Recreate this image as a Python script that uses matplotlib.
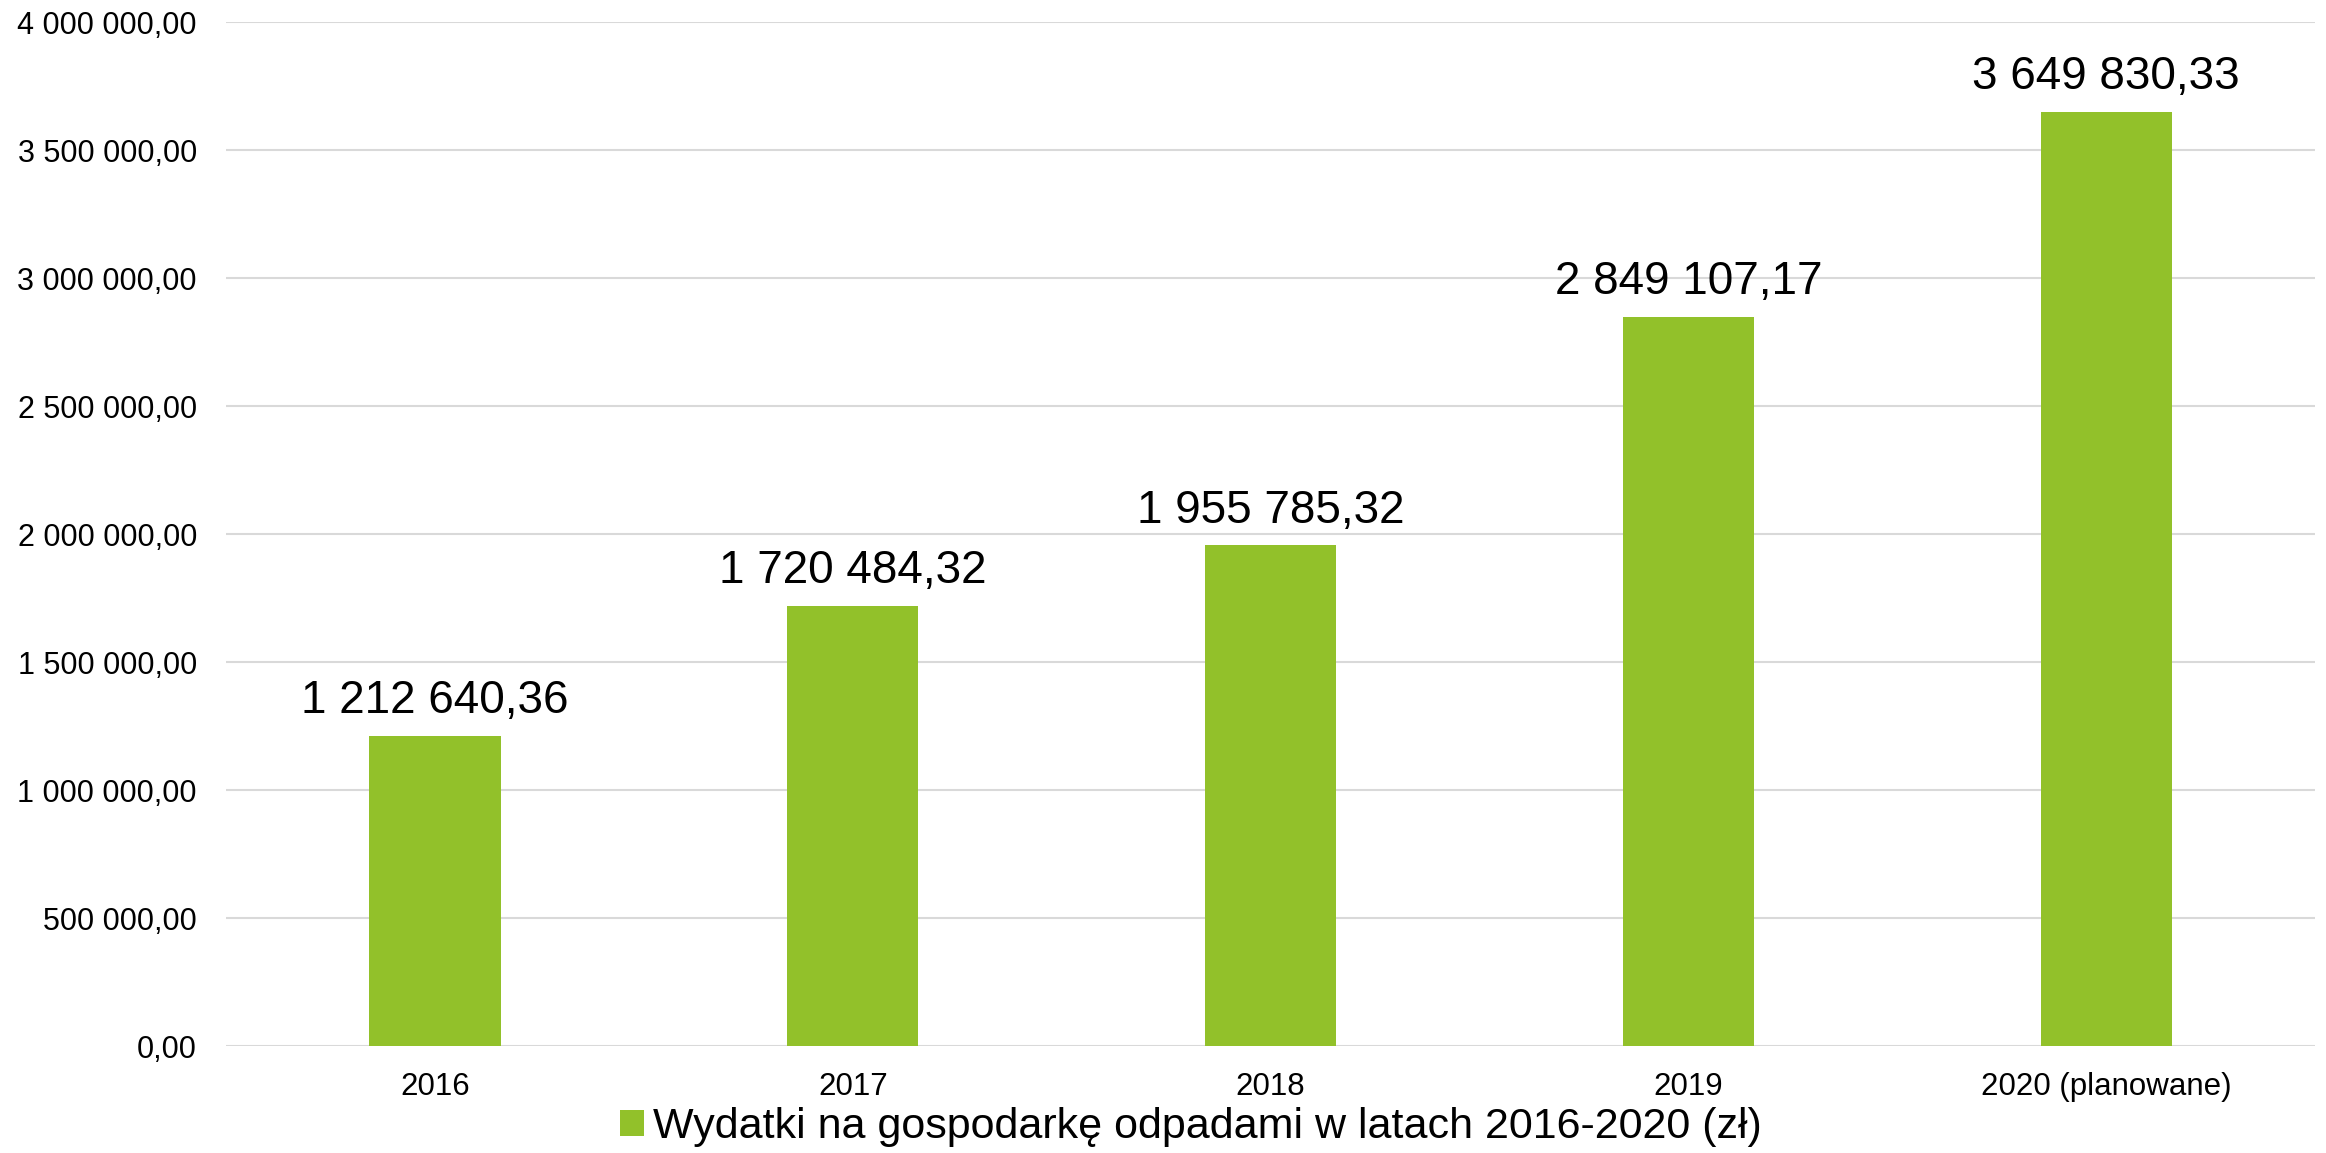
import numpy as np
import matplotlib.pyplot as plt
from matplotlib.ticker import FuncFormatter

plt.rcParams['font.family'] = ['Liberation Sans', 'DejaVu Sans']

# data
years = ['2016', '2017', '2018', '2019', '2020 (planowane)']
values = [1212640.36, 1720484.32, 1955785.32, 2849107.17, 3649830.33]
series_name = 'Wydatki na gospodarkę odpadami w latach 2016-2020 (zł)'
bar_color = '#92c12a'


def pl_fmt(v, pos=None):
    s = '{:,.2f}'.format(v)
    return s.replace(',', ' ').replace('.', ',')


fig = plt.figure(figsize=(23.26, 11.53), dpi=100)
ax = fig.add_axes([0.0972, 0.0928, 0.8981, 0.8881])

x = np.arange(len(years))
bars = ax.bar(x, values, width=0.314, color=bar_color, label=series_name, zorder=3)

for xi, v in zip(x, values):
    ax.annotate(pl_fmt(v), (xi, v), xytext=(0, 16), textcoords='offset points',
                ha='center', va='baseline', fontsize=33, color='black')

ax.set_xlim(-0.5, len(years) - 0.5)
ax.set_ylim(0, 4000000)
ax.set_yticks(np.arange(0, 4000001, 500000))
ax.yaxis.set_major_formatter(FuncFormatter(pl_fmt))
ax.set_xticks(x)
ax.set_xticklabels(years)

ax.grid(axis='y', color='#d9d9d9', linewidth=1.5, zorder=0)
for sp in ax.spines.values():
    sp.set_visible(False)
ax.tick_params(axis='y', length=0, pad=21, labelsize=22)
ax.tick_params(axis='x', length=0, pad=19, labelsize=22.5)

fig.legend(loc='center', bbox_to_anchor=(0.512, 0.0226), frameon=False,
           fontsize=31, handlelength=0.55, handleheight=0.55, handletextpad=0.2)

fig.savefig('out.png', dpi=100)
